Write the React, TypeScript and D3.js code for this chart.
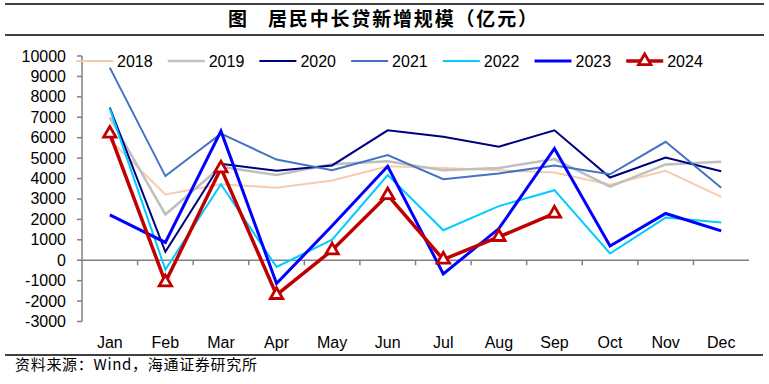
import React from "react";
import * as d3 from "d3";

const months = ["Jan", "Feb", "Mar", "Apr", "May", "Jun", "Jul", "Aug", "Sep", "Oct", "Nov", "Dec"];
const yTicks = [-3000, -2000, -1000, 0, 1000, 2000, 3000, 4000, 5000, 6000, 7000, 8000, 9000, 10000];

const s2018 = [5900, 3220, 3720, 3550, 3900, 4600, 4520, 4400, 4300, 3700, 4380, 3100];
const s2019 = [7000, 2240, 4580, 4170, 4700, 4850, 4400, 4520, 4950, 3600, 4690, 4820];
const s2020 = [7470, 410, 4720, 4380, 4640, 6360, 6050, 5560, 6360, 4050, 5030, 4360];
const s2021 = [9430, 4120, 6200, 4930, 4410, 5150, 3970, 4250, 4640, 4210, 5800, 3550];
const s2022 = [7420, -460, 3720, -330, 1010, 4170, 1470, 2650, 3430, 330, 2090, 1850];
const s2023 = [2220, 870, 6320, -1140, 1690, 4600, -670, 1550, 5470, 700, 2290, 1440];
const s2024 = [6200, -1080, 4500, -1700, 490, 3190, 35, 1140, 2290];

const seriesNames = ["2018", "2019", "2020", "2021", "2022", "2023", "2024"];

const series = [
  { name: "2018", values: s2018, color: "#F8CBAD", width: 2 },
  { name: "2019", values: s2019, color: "#BFBFBF", width: 2.5 },
  { name: "2020", values: s2020, color: "#00007F", width: 2 },
  { name: "2021", values: s2021, color: "#4472C4", width: 2 },
  { name: "2022", values: s2022, color: "#00CCFF", width: 2 },
  { name: "2023", values: s2023, color: "#0000FF", width: 3 },
  { name: "2024", values: s2024, color: "#C00000", width: 3.5, marker: true },
];

const W = 769;
const H = 384;
const x0 = 82;
const x1 = 749;

export default function App() {
  const x = d3.scaleBand<string>().domain(months).range([x0, x1]);
  const y = d3.scaleLinear().domain([-3000, 10000]).range([321.5, 56]);
  const cx = (m: string) => (x(m) as number) + x.bandwidth() / 2;
  const line = d3
    .line<number>()
    .x((_, i) => cx(months[i]))
    .y((v) => y(v));
  const tri = d3.symbol().type(d3.symbolTriangle).size(66)();
  const font = "'Liberation Sans', Arial, sans-serif";
  const cjk = "'Noto Sans CJK SC', sans-serif";

  return (
    <svg
      width={W}
      height={H}
      viewBox={`0 0 ${W} ${H}`}
      style={{ position: "absolute", left: 0, top: 0, background: "#fff", display: "block" }}
    >
      <rect x={0} y={0} width={W} height={H} fill="#fff" />
      {/* title */}
      <line x1={5} x2={764} y1={4} y2={4} stroke="#000" strokeWidth={1.5} />
      <line x1={5} x2={764} y1={35} y2={35} stroke="#000" strokeWidth={1.5} />
      <text x={228} y={26} fontFamily={cjk} fontSize={19} fontWeight={700} fill="#000">
        图
      </text>
      <text x={268} y={26} fontFamily={cjk} fontSize={19} fontWeight={700} fill="#000" textLength={269} lengthAdjust="spacing">
        居民中长贷新增规模（亿元）
      </text>

      {/* y axis */}
      <line x1={x0} x2={x0} y1={y(10000)} y2={y(-3000)} stroke="#808080" strokeWidth={1.5} />
      {yTicks.map((t) => (
        <g key={t}>
          <line x1={x0 - 5} x2={x0} y1={y(t)} y2={y(t)} stroke="#808080" strokeWidth={1.5} />
          <text x={66} y={y(t) + 5.5} textAnchor="end" fontFamily={font} fontSize={16} fill="#000">
            {t}
          </text>
        </g>
      ))}

      {/* x axis at zero */}
      <line x1={x0} x2={x1} y1={y(0)} y2={y(0)} stroke="#808080" strokeWidth={1.5} />
      {months.slice(1).map((m) => (
        <line key={m} x1={x(m) as number} x2={x(m) as number} y1={y(0)} y2={y(0) + 5} stroke="#808080" strokeWidth={1.5} />
      ))}
      {months.map((m) => (
        <text key={m} x={cx(m)} y={348} textAnchor="middle" fontFamily={font} fontSize={16} fill="#000">
          {m}
        </text>
      ))}

      {/* lines */}
      {series.map((s) => (
        <path
          key={s.name}
          d={line(s.values) as string}
          fill="none"
          stroke={s.color}
          strokeWidth={s.width}
          strokeLinejoin="miter"
        />
      ))}
      {s2024.map((v, i) => (
        <path
          key={i}
          d={tri as string}
          transform={`translate(${cx(months[i])},${y(v)})`}
          fill="#fff"
          stroke="#C00000"
          strokeWidth={2.8}
        />
      ))}

      {/* legend */}
      {series.map((s, i) => {
        const lx = 76 + i * 91.7;
        return (
          <g key={s.name}>
            <line x1={lx} x2={lx + 37} y1={61} y2={61} stroke={s.color} strokeWidth={s.width} />
            {s.marker && (
              <path d={tri as string} transform={`translate(${lx + 18.5},${61})`} fill="#fff" stroke="#C00000" strokeWidth={2.8} />
            )}
            <text x={lx + 41} y={66.5} fontFamily={font} fontSize={16} fill="#000">
              {seriesNames[i]}
            </text>
          </g>
        );
      })}

      {/* footer */}
      <line x1={5} x2={763} y1={355} y2={355} stroke="#000" strokeWidth={1.5} />
      <text x={15} y={370} fontFamily={cjk} fontSize={15} fill="#000" textLength={242} lengthAdjust="spacing">
        资料来源：Wind，海通证券研究所
      </text>
    </svg>
  );
}
